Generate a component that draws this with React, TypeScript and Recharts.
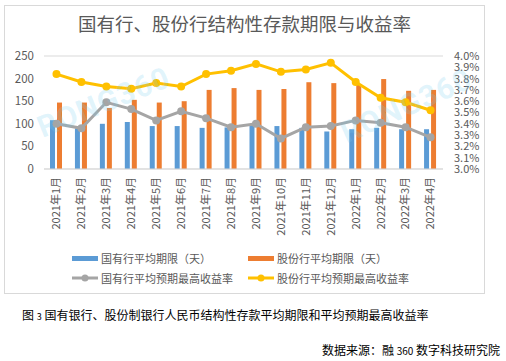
import { ComposedChart, Bar, Line, XAxis, YAxis, CartesianGrid } from "recharts";

const MONTHS = [
  "2021年1月", "2021年2月", "2021年3月", "2021年4月", "2021年5月", "2021年6月",
  "2021年7月", "2021年8月", "2021年9月", "2021年10月", "2021年11月", "2021年12月",
  "2022年1月", "2022年2月", "2022年3月", "2022年4月",
];
// average term, days
const SOE_TERM = [108, 90, 100, 104, 95, 95, 91, 92, 97, 95, 91, 83, 88, 91, 88, 88];
const JSB_TERM = [147, 147, 135, 153, 147, 150, 175, 179, 175, 177, 192, 190, 188, 199, 173, 175];
// average expected max yield, %
const SOE_RATE = [3.4, 3.36, 3.59, 3.53, 3.43, 3.51, 3.45, 3.37, 3.4, 3.27, 3.37, 3.38, 3.43, 3.41, 3.37, 3.28];
const JSB_RATE = [3.84, 3.77, 3.73, 3.71, 3.76, 3.73, 3.84, 3.87, 3.93, 3.86, 3.88, 3.94, 3.77, 3.63, 3.59, 3.52];

const LEFT_TICKS = [0, 50, 100, 150, 200, 250];
const RIGHT_TICKS = [3.0, 3.1, 3.2, 3.3, 3.4, 3.5, 3.6, 3.7, 3.8, 3.9, 4.0];

const SERIES = {
  soeTerm: { name: "国有行平均期限（天）", color: "#5b9bd5" },
  jsbTerm: { name: "股份行平均期限（天）", color: "#ed7d31" },
  soeRate: { name: "国有行平均预期最高收益率", color: "#a5a5a5" },
  jsbRate: { name: "股份行平均预期最高收益率", color: "#ffc000" },
};

const data = MONTHS.map((m, i) => ({
  month: m,
  soeTerm: SOE_TERM[i],
  jsbTerm: JSB_TERM[i],
  soeRate: SOE_RATE[i],
  jsbRate: JSB_RATE[i],
}));

const FONT = "'Noto Sans CJK SC', 'Noto Sans', sans-serif";
const TEXT = "#595959";

function MonthTick({ x, y, payload }: any) {
  return (
    <g transform={`translate(${x},${y})`}>
      <text
        transform="rotate(-90)"
        textAnchor="end"
        dy="0.35em"
        fontSize={11}
        fill={TEXT}
        fontFamily={FONT}
      >
        {payload.value}
      </text>
    </g>
  );
}

function BarSwatch({ color }: { color: string }) {
  return <span style={{ display: "inline-block", width: 26, height: 5, background: color, marginRight: 3 }} />;
}

function LineSwatch({ color }: { color: string }) {
  return (
    <svg width={26} height={10} style={{ marginRight: 3 }}>
      <line x1={0} y1={5} x2={26} y2={5} stroke={color} strokeWidth={3} />
      <circle cx={13} cy={5} r={3.5} fill={color} />
    </svg>
  );
}

function LegendItem({ left, top, swatch, label }: any) {
  return (
    <div style={{ position: "absolute", left, top, display: "flex", alignItems: "center", height: 14, fontSize: 11, color: TEXT, whiteSpace: "nowrap" }}>
      {swatch}
      <span>{label}</span>
    </div>
  );
}

function Watermark({ left, top, angle, size }: any) {
  return (
    <div
      style={{
        position: "absolute", left, top, transform: `rotate(${angle}deg)`, transformOrigin: "left top",
        fontSize: size, fontWeight: 700, fontFamily: "Roboto, sans-serif", color: "rgba(120, 205, 240, 0.22)",
        pointerEvents: "none", whiteSpace: "nowrap", letterSpacing: 1,
      }}
    >
      RONG360
    </div>
  );
}

export default function App() {
  return (
    <div style={{ position: "absolute", left: 0, top: 0, width: 506, height: 361, background: "#fff", fontFamily: FONT, overflow: "hidden" }}>
      <div style={{ position: "absolute", left: 4, top: 5, width: 479, height: 287, border: "1px solid #d9d9d9", background: "#fff" }}>
        <div style={{ position: "absolute", left: 0, top: 6, width: 479, textAlign: "center", fontSize: 18.5, lineHeight: "22px", color: TEXT }}>
          国有行、股份行结构性存款期限与收益率
        </div>
        <ComposedChart
          width={479}
          height={287}
          data={data}
          margin={{ top: 50, right: 0, left: 0, bottom: 50 }}
          barSize={5}
          barGap={2}
        >
          <CartesianGrid vertical={false} stroke="#d9d9d9" />
          <XAxis
            dataKey="month"
            interval={0}
            height={74}
            tickLine={false}
            axisLine={{ stroke: "#d9d9d9" }}
            tick={<MonthTick />}
          />
          <YAxis
            yAxisId="left"
            width={39}
            domain={[0, 250]}
            ticks={LEFT_TICKS}
            axisLine={false}
            tickLine={false}
            tickSize={8}
            tick={{ fontSize: 11.5, fill: TEXT, fontFamily: FONT }}
          />
          <YAxis
            yAxisId="right"
            orientation="right"
            width={41}
            domain={[3.0, 4.0]}
            ticks={RIGHT_TICKS}
            axisLine={false}
            tickLine={false}
            tickSize={9}
            interval={0}
            tickFormatter={(v: number) => `${v.toFixed(1)}%`}
            tick={{ fontSize: 11, fill: TEXT, fontFamily: FONT, textAnchor: "start" }}
          />
          <Bar yAxisId="left" dataKey="soeTerm" name={SERIES.soeTerm.name} fill={SERIES.soeTerm.color} isAnimationActive={false} />
          <Bar yAxisId="left" dataKey="jsbTerm" name={SERIES.jsbTerm.name} fill={SERIES.jsbTerm.color} isAnimationActive={false} />
          <Line
            yAxisId="right"
            dataKey="soeRate"
            name={SERIES.soeRate.name}
            stroke={SERIES.soeRate.color}
            strokeWidth={3}
            dot={{ r: 4, fill: SERIES.soeRate.color, stroke: SERIES.soeRate.color, strokeWidth: 0 }}
            isAnimationActive={false}
          />
          <Line
            yAxisId="right"
            dataKey="jsbRate"
            name={SERIES.jsbRate.name}
            stroke={SERIES.jsbRate.color}
            strokeWidth={3}
            dot={{ r: 4, fill: SERIES.jsbRate.color, stroke: SERIES.jsbRate.color, strokeWidth: 0 }}
            isAnimationActive={false}
          />
        </ComposedChart>
        <LegendItem left={67} top={245} swatch={<BarSwatch color={SERIES.soeTerm.color} />} label={SERIES.soeTerm.name} />
        <LegendItem left={243} top={245} swatch={<BarSwatch color={SERIES.jsbTerm.color} />} label={SERIES.jsbTerm.name} />
        <LegendItem left={67} top={265} swatch={<LineSwatch color={SERIES.soeRate.color} />} label={SERIES.soeRate.name} />
        <LegendItem left={243} top={265} swatch={<LineSwatch color={SERIES.jsbRate.color} />} label={SERIES.jsbRate.name} />
      </div>
      <Watermark left={32} top={112} angle={-22} size={30} />
      <Watermark left={335} top={118} angle={-24} size={30} />
      <div style={{ position: "absolute", left: 22, top: 307, fontSize: 12, lineHeight: "16px", color: "#000", whiteSpace: "nowrap" }}>
        图 <span style={{ fontSize: 9 }}>3</span> 国有银行、股份制银行人民币结构性存款平均期限和平均预期最高收益率
      </div>
      <div style={{ position: "absolute", right: 6, top: 342, fontSize: 12, lineHeight: "16px", color: "#000", whiteSpace: "nowrap" }}>
        数据来源：融 <span style={{ fontSize: 10 }}>360</span> 数字科技研究院
      </div>
    </div>
  );
}
